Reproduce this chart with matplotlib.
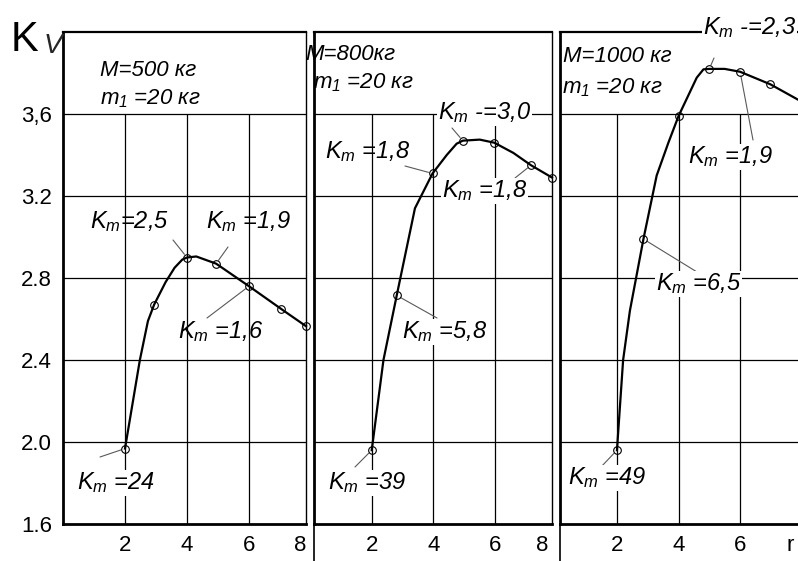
import matplotlib
matplotlib.use('Agg')
import matplotlib.pyplot as plt

plt.rcParams['font.family'] = ['Liberation Sans', 'DejaVu Sans']
plt.rcParams['mathtext.fontset'] = 'custom'
plt.rcParams['mathtext.it'] = 'Liberation Sans:italic'
plt.rcParams['mathtext.rm'] = 'Liberation Sans:italic'

# data: marked points and the drawn curve for each mass
r_500 = [2.0, 2.94, 4.0, 4.94, 6.0, 7.03, 7.84]
kv_500 = [1.968, 2.67, 2.90, 2.87, 2.76, 2.65, 2.565]
curve_r_500 = [2.0, 2.48, 2.74, 2.94, 3.31, 3.6, 3.85, 4.0, 4.3, 4.94, 6.0, 7.03, 7.84]
curve_kv_500 = [1.968, 2.40, 2.59, 2.67, 2.78, 2.85, 2.89, 2.90, 2.905, 2.87, 2.76, 2.65, 2.565]

r_800 = [2.0, 2.81, 3.97, 4.95, 5.97, 7.16, 7.84]
kv_800 = [1.96, 2.715, 3.31, 3.47, 3.46, 3.35, 3.29]
curve_r_800 = [2.0, 2.38, 2.81, 3.40, 3.97, 4.43, 4.75, 4.95, 5.5, 5.97, 6.59, 7.16, 7.84]
curve_kv_800 = [1.96, 2.40, 2.715, 3.14, 3.31, 3.40, 3.455, 3.47, 3.475, 3.46, 3.41, 3.35, 3.29]

r_1000 = [2.0, 2.86, 4.0, 5.0, 6.0, 6.98]
kv_1000 = [1.96, 2.99, 3.59, 3.82, 3.806, 3.745]
curve_r_1000 = [2.0, 2.2, 2.42, 2.86, 3.29, 3.67, 4.0, 4.59, 4.81, 5.0, 5.5, 6.0, 6.98, 7.88]
curve_kv_1000 = [1.96, 2.40, 2.64, 2.99, 3.30, 3.46, 3.59, 3.777, 3.818, 3.82, 3.82, 3.806, 3.745, 3.67]

ytick_vals = [1.6, 2.0, 2.4, 2.8, 3.2, 3.6]
ytick_labels = ['1.6', '2.0', '2.4', '2.8', '3.2', '3,6']
grid_x = [2, 4, 6]
grid_y = [2.0, 2.4, 2.8, 3.2, 3.6]

W, H = 798, 561
fig = plt.figure(figsize=(W / 100, H / 100), dpi=100)


def make_ax(left, right, xmin, xmax):
    top, bottom = 32, 524
    ax = fig.add_axes([left / W, 1 - bottom / H, (right - left) / W, (bottom - top) / H])
    ax.set_xlim(xmin, xmax)
    ax.set_ylim(1.6, 4.0)
    ax.hlines(grid_y, xmin, xmax, color='k', lw=0.9, zorder=1)
    ax.vlines(grid_x, 1.6, 3.6, color='k', lw=0.9, zorder=1)
    ax.spines['left'].set_linewidth(2)
    ax.spines['bottom'].set_linewidth(2)
    ax.spines['top'].set_linewidth(1.6)
    ax.spines['right'].set_linewidth(1)
    ax.tick_params(length=0, labelsize=16, pad=8)
    ax.set_yticks([])
    return ax


ax1 = make_ax(63, 306, 0.0, 7.84)
ax2 = make_ax(314, 552, 0.13, 7.84)
ax3 = make_ax(560, 798, 0.15, 7.88)
ax3.spines['right'].set_visible(False)

ax1.set_yticks(ytick_vals)
ax1.set_yticklabels(ytick_labels)
ax1.tick_params(axis='y', pad=8)

ax1.set_xticks([2, 4, 6, 7.66])
ax1.set_xticklabels(['2', '4', '6', '8'])
ax2.set_xticks([2, 4, 6, 7.52])
ax2.set_xticklabels(['2', '4', '6', '8'])
ax3.set_xticks([2, 4, 6, 7.63])
ax3.set_xticklabels(['2', '4', '6', 'r'])

# left border of panels 2 and 3 runs on below the frame
for ax in (ax2, ax3):
    ax.plot([0, 0], [0, -0.08], transform=ax.transAxes, color='k', lw=1.2, clip_on=False)

panels = [
    (ax1, curve_r_500, curve_kv_500, r_500, kv_500),
    (ax2, curve_r_800, curve_kv_800, r_800, kv_800),
    (ax3, curve_r_1000, curve_kv_1000, r_1000, kv_1000),
]
for ax, cr, ck, pr, pk in panels:
    ax.plot(cr, ck, color='k', lw=1.6, zorder=3, clip_on=False, solid_joinstyle='round')
    ax.plot(pr, pk, 'o', mfc='none', mec='k', ms=5.5, mew=0.8, zorder=4, clip_on=False)

# axis title
fig.text(11, H - 40, 'K', fontsize=30, va='center', ha='left', transform=None, zorder=7)
fig.text(44, H - 46, 'V', fontsize=20, style='italic', va='center', ha='left',
         transform=None, zorder=7, color='0.15')

# mass labels
heads = [
    (100, 71, 'M=500 кг'), (100, 99, '$m_1$ =20 кг'),
    (305, 55, 'M=800кг'), (313, 83, '$m_1$ =20 кг'),
    (563, 57, 'M=1000 кг'), (562, 88, '$m_1$ =20 кг'),
]
for x, y, s in heads:
    fig.text(x, H - y, s, fontsize=16, style='italic', va='center', ha='left',
             transform=None)

# K_m labels: text position, leader start (pixels), target point
notes = [
    (ax1, 90, 222, '$K_m$=2,5', (173, 240), (4.0, 2.90), False),
    (ax1, 206, 222, '$K_m$ =1,9', (228, 247), (4.94, 2.87), False),
    (ax1, 178, 332, '$K_m$ =1,6', (207, 318), (6.0, 2.76), False),
    (ax1, 77, 483, '$K_m$ =24', (100, 457), (2.0, 1.968), True),
    (ax2, 438, 113, '$K_m$ -=3,0', (452, 128), (4.95, 3.47), True),
    (ax2, 325, 152, '$K_m$ =1,8', (405, 166), (3.97, 3.31), False),
    (ax2, 442, 191, '$K_m$ =1,8', (515, 178), (7.16, 3.35), True),
    (ax2, 402, 332, '$K_m$ =5,8', (437, 318), (2.81, 2.715), True),
    (ax2, 328, 483, '$K_m$ =39', (355, 467), (2.0, 1.96), True),
    (ax3, 703, 28, '$K_m$ -=2,3', (714, 58), (5.0, 3.82), True),
    (ax3, 688, 157, '$K_m$ =1,9', (753, 140), (6.0, 3.806), True),
    (ax3, 656, 284, '$K_m$ =6,5', (697, 272), (2.86, 2.99), True),
    (ax3, 568, 478, '$K_m$ =49', (600, 468), (2.0, 1.96), True),
]
for ax, x, y, s, lead, pt, boxed in notes:
    bbox = dict(facecolor='white', edgecolor='none', pad=0.5) if boxed else None
    fig.text(x, H - y, s, fontsize=17, style='italic', va='center', ha='left',
             transform=None, bbox=bbox, zorder=6)
    ax.annotate('', xy=pt, xycoords='data', xytext=(lead[0], H - lead[1]),
                textcoords='figure pixels', annotation_clip=False,
                arrowprops=dict(arrowstyle='-', color='0.35', lw=0.8, shrinkA=0, shrinkB=3))

fig.savefig('out.png', dpi=100)
